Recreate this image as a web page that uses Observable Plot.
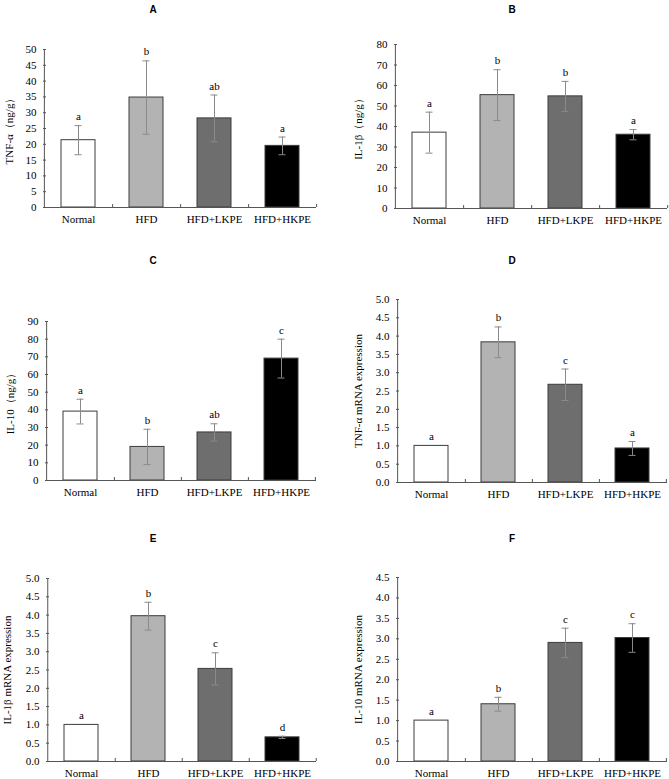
<!DOCTYPE html>
<html><head><meta charset="utf-8">
<script src="https://cdn.jsdelivr.net/npm/d3@7"></script>
<script src="https://cdn.jsdelivr.net/npm/@observablehq/plot@0.6"></script>
<style>
html,body{margin:0;padding:0;background:#fff;overflow:hidden}
#wrap{position:relative;width:669px;height:779px;overflow:hidden}
.panel{position:absolute}
.title{position:absolute;font:bold 10px "Liberation Sans",Arial,sans-serif;transform:translate(-50%,-50%);color:#000}
</style></head><body><div id="wrap"></div>
<script>
// ---- data ----
const groups = ["Normal", "HFD", "HFD+LKPE", "HFD+HKPE"];
const groupFills = ["#ffffff", "#b3b3b3", "#6e6e6e", "#000000"];

const tnfProteinMean = [21.3, 34.8, 28.2, 19.5];
const tnfProteinSD   = [4.6, 11.6, 7.4, 2.8];
const tnfProteinSig  = ["a", "b", "ab", "a"];
const tnfProteinTicks = [0, 5, 10, 15, 20, 25, 30, 35, 40, 45, 50];

const il1bProteinMean = [37.0, 55.3, 54.7, 36.0];
const il1bProteinSD   = [10.0, 12.4, 7.3, 2.5];
const il1bProteinSig  = ["a", "b", "b", "a"];
const il1bProteinTicks = [0, 10, 20, 30, 40, 50, 60, 70, 80];

const il10ProteinMean = [39.0, 19.0, 27.2, 69.0];
const il10ProteinSD   = [7.0, 10.0, 4.9, 11.0];
const il10ProteinSig  = ["a", "b", "ab", "c"];
const il10ProteinTicks = [0, 10, 20, 30, 40, 50, 60, 70, 80, 90];

const tnfMrnaMean = [1.0, 3.83, 2.67, 0.93];
const tnfMrnaSD   = [0.0, 0.42, 0.43, 0.19];
const tnfMrnaSig  = ["a", "b", "c", "a"];
const tnfMrnaTicks = [0, 0.5, 1, 1.5, 2, 2.5, 3, 3.5, 4, 4.5, 5];

const il1bMrnaMean = [1.0, 3.97, 2.53, 0.66];
const il1bMrnaSD   = [0.0, 0.38, 0.44, 0.03];
const il1bMrnaSig  = ["a", "b", "c", "d"];
const il1bMrnaTicks = [0, 0.5, 1, 1.5, 2, 2.5, 3, 3.5, 4, 4.5, 5];

const il10MrnaMean = [1.0, 1.40, 2.90, 3.02];
const il10MrnaSD   = [0.0, 0.17, 0.36, 0.35];
const il10MrnaSig  = ["a", "b", "c", "c"];
const il10MrnaTicks = [0, 0.5, 1, 1.5, 2, 2.5, 3, 3.5, 4, 4.5];

// ---- layout ----
const panels = [
  {title: "A", label: "TNF-α（ng/g）", mean: tnfProteinMean, sd: tnfProteinSD, sig: tnfProteinSig, ticks: tnfProteinTicks, fmt: d3.format("d"),
   left: 0, top: 0, w: 335, h: 250, ml: 43, mr: 19, mt: 49, mb: 43, labelX: 9, tx: 153, ty: 9},
  {title: "B", label: "IL-1β（ng/g）", mean: il1bProteinMean, sd: il1bProteinSD, sig: il1bProteinSig, ticks: il1bProteinTicks, fmt: d3.format("d"),
   left: 335, top: 0, w: 334, h: 250, ml: 59, mr: 2, mt: 44, mb: 42, labelX: 23, tx: 512, ty: 9},
  {title: "C", label: "IL-10（ng/g）", mean: il10ProteinMean, sd: il10ProteinSD, sig: il10ProteinSig, ticks: il10ProteinTicks, fmt: d3.format("d"),
   left: 0, top: 250, w: 335, h: 260, ml: 45, mr: 19, mt: 71, mb: 30, labelX: 10, tx: 153, ty: 260},
  {title: "D", label: "TNF-α mRNA expression", mean: tnfMrnaMean, sd: tnfMrnaSD, sig: tnfMrnaSig, ticks: tnfMrnaTicks, fmt: d3.format(".1f"),
   left: 335, top: 250, w: 334, h: 260, ml: 61, mr: 2, mt: 49, mb: 28, labelX: 23, tx: 512, ty: 260},
  {title: "E", label: "IL-1β mRNA expression", mean: il1bMrnaMean, sd: il1bMrnaSD, sig: il1bMrnaSig, ticks: il1bMrnaTicks, fmt: d3.format(".1f"),
   left: 0, top: 510, w: 335, h: 290, ml: 46, mr: 19, mt: 68, mb: 39, labelX: 7, tx: 153, ty: 538},
  {title: "F", label: "IL-10 mRNA expression", mean: il10MrnaMean, sd: il10MrnaSD, sig: il10MrnaSig, ticks: il10MrnaTicks, fmt: d3.format(".1f"),
   left: 335, top: 510, w: 334, h: 290, ml: 61, mr: 2, mt: 67, mb: 39, labelX: 23, tx: 512, ty: 538}
];

const wrap = document.getElementById("wrap");
const axisColor = "#555";
const errColor = "#8a8a8a";

for (const p of panels) {
  const data = groups.map((g, i) => ({
    group: g, mean: p.mean[i], lo: p.mean[i] - p.sd[i], hi: p.mean[i] + p.sd[i], sig: p.sig[i], sd: p.sd[i]
  }));
  const errData = data.filter(d => d.sd > 0);
  const innerW = p.w - p.ml - p.mr;
  const innerH = p.h - p.mt - p.mb;
  const step = innerW / groups.length;
  const yMax = p.ticks[p.ticks.length - 1];

  const chart = Plot.plot({
    width: p.w, height: p.h,
    marginLeft: p.ml, marginRight: p.mr, marginTop: p.mt, marginBottom: p.mb,
    style: {fontFamily: "'Liberation Serif','Times New Roman',serif", fontSize: "11px", background: "transparent", overflow: "visible", color: "#000"},
    x: {domain: groups, paddingInner: 0.5, paddingOuter: 0.25, axis: null},
    y: {domain: [0, yMax], axis: null},
    color: {domain: groups, range: groupFills},
    marks: [
      Plot.barY(data, {x: "group", y: "mean", fill: "group", stroke: "#3c3c3c", strokeWidth: 1}),
      Plot.ruleX(errData, {x: "group", y1: "lo", y2: "hi", stroke: errColor, strokeWidth: 1}),
      Plot.tickY(errData, {x: "group", y: "hi", stroke: errColor, insetLeft: 13.5, insetRight: 13.5}),
      Plot.tickY(errData, {x: "group", y: "lo", stroke: errColor, insetLeft: 13.5, insetRight: 13.5}),
      Plot.text(data, {x: "group", y: "hi", text: "sig", dy: -9, fontSize: 11, fill: "#000"}),
      Plot.ruleY([0], {stroke: axisColor}),
      Plot.ruleX([groups[0]], {x: d => d, dx: -step / 2, stroke: axisColor}),
      Plot.tickY(p.ticks, {y: d => d, insetRight: innerW - 3, stroke: axisColor}),
      Plot.ruleX(groups, {x: d => d, dx: step / 2, insetTop: innerH - 3, stroke: axisColor}),
      Plot.axisY(p.ticks, {tickSize: 0, tickPadding: 7, tickFormat: p.fmt, fontSize: 11, label: null}),
      Plot.axisX({tickSize: 0, tickPadding: 8, fontSize: 11, label: null}),
      Plot.text([p.label], {frameAnchor: "left", rotate: -90, textAnchor: "middle", lineAnchor: "middle", dx: -(p.ml - p.labelX), text: d => d, fontSize: 11, fill: "#000"})
    ]
  });
  chart.classList.add("panel");
  chart.style.left = p.left + "px";
  chart.style.top = p.top + "px";
  wrap.appendChild(chart);

  const t = document.createElement("div");
  t.className = "title";
  t.textContent = p.title;
  t.style.left = p.tx + "px";
  t.style.top = p.ty + "px";
  wrap.appendChild(t);
}
</script>
</body></html>
